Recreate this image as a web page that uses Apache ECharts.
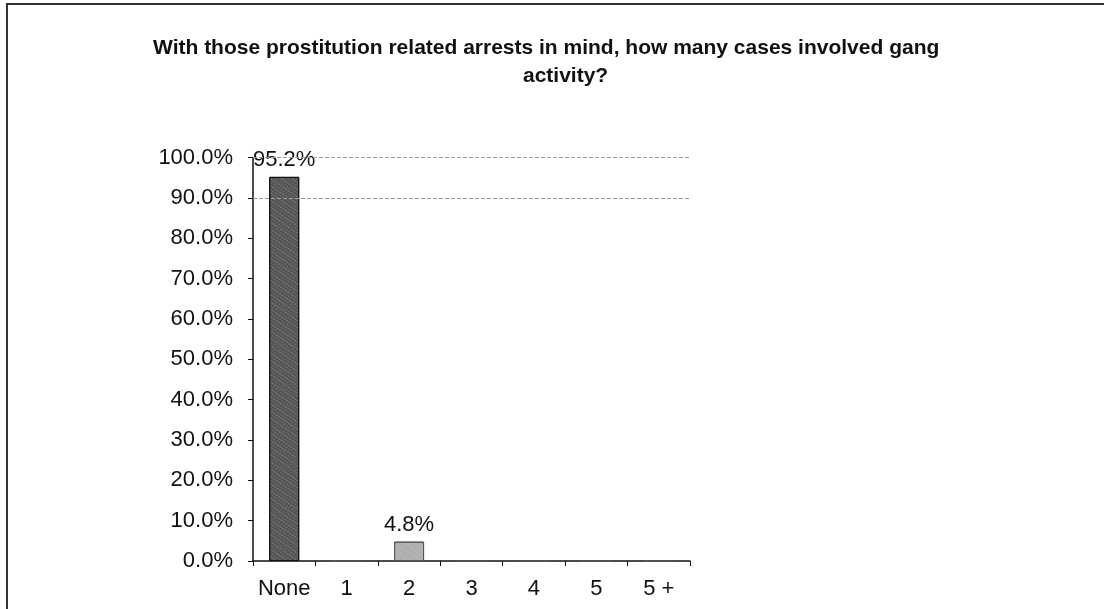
<!DOCTYPE html>
<html>
<head>
<meta charset="utf-8">
<script src="https://cdn.jsdelivr.net/npm/echarts@6/dist/echarts.min.js"></script>
<style>
html,body{margin:0;padding:0;background:#fff;}
#c{width:1104px;height:609px;}
</style>
</head>
<body>
<div id="c"></div>
<script>
var titleLine1 = 'With those prostitution related arrests in mind, how many cases involved gang';
var titleLine2 = 'activity?';
var categories = ['None', '1', '2', '3', '4', '5', '5 +'];
var percentValues = [95.2, 0, 4.8, 0, 0, 0, 0];
var barColors = ['#555555', '#555555', '#b4b4b4', '#555555', '#555555', '#555555', '#555555'];
var gridLevels = [100, 90];

var chart = echarts.init(document.getElementById('c'), null, {renderer: 'canvas'});
var fontFam = '"Liberation Sans", Arial, sans-serif';

var data = percentValues.map(function (v, i) {
  return {
    value: v,
    itemStyle: {
      color: barColors[i], borderColor: i === 0 ? '#111' : '#555', borderWidth: 1,
      decal: {
        symbol: 'rect', symbolSize: 1, color: i === 0 ? 'rgba(200,200,200,0.35)' : 'rgba(90,90,90,0.25)',
        dashArrayX: [[1, 2], [2, 1]], dashArrayY: [1, 2], rotation: 0.6
      }
    },
    label: {show: v > 0}
  };
});

chart.setOption({
  backgroundColor: '#fff',
  animation: false,
  title: [
    {text: titleLine1, left: 148, top: 33, textStyle: {fontFamily: fontFam, fontSize: 21, fontWeight: 'bold', color: '#111'}},
    {text: titleLine2, left: 518, top: 61, textStyle: {fontFamily: fontFam, fontSize: 21, fontWeight: 'bold', color: '#111'}}
  ],
  graphic: [{
    type: 'polyline',
    shape: {points: [[7, 700], [7, 4], [1200, 4]]},
    style: {stroke: '#333', lineWidth: 2, fill: null}
  }],
  grid: {left: 253, right: 414, top: 157.5, bottom: 48, containLabel: false},
  xAxis: {
    type: 'category',
    data: categories,
    axisLine: {lineStyle: {color: '#111', width: 1.5}},
    axisTick: {show: true, alignWithLabel: false, interval: 0, length: 5, lineStyle: {color: '#111'}},
    axisLabel: {interval: 0, fontFamily: fontFam, fontSize: 22, color: '#111', margin: 17}
  },
  yAxis: {
    type: 'value',
    min: 0, max: 100, interval: 10,
    axisLine: {show: true, lineStyle: {color: '#111', width: 1.5}},
    axisTick: {show: true, length: 5, lineStyle: {color: '#111'}},
    splitLine: {show: false},
    axisLabel: {fontFamily: fontFam, fontSize: 22, color: '#111', margin: 20,
      formatter: function (v) { return v.toFixed(1) + '%'; }}
  },
  series: [{
    type: 'bar',
    data: data,
    barWidth: 30,
    label: {
      position: 'top', distance: 6,
      fontFamily: fontFam, fontSize: 22, color: '#111',
      formatter: function (p) { return p.value.toFixed(1) + '%'; }
    },
    markLine: {
      silent: true, symbol: 'none', label: {show: false},
      lineStyle: {color: '#999', type: 'dashed', width: 1},
      data: gridLevels.map(function (g) { return {yAxis: g}; })
    }
  }]
});
</script>
</body>
</html>
